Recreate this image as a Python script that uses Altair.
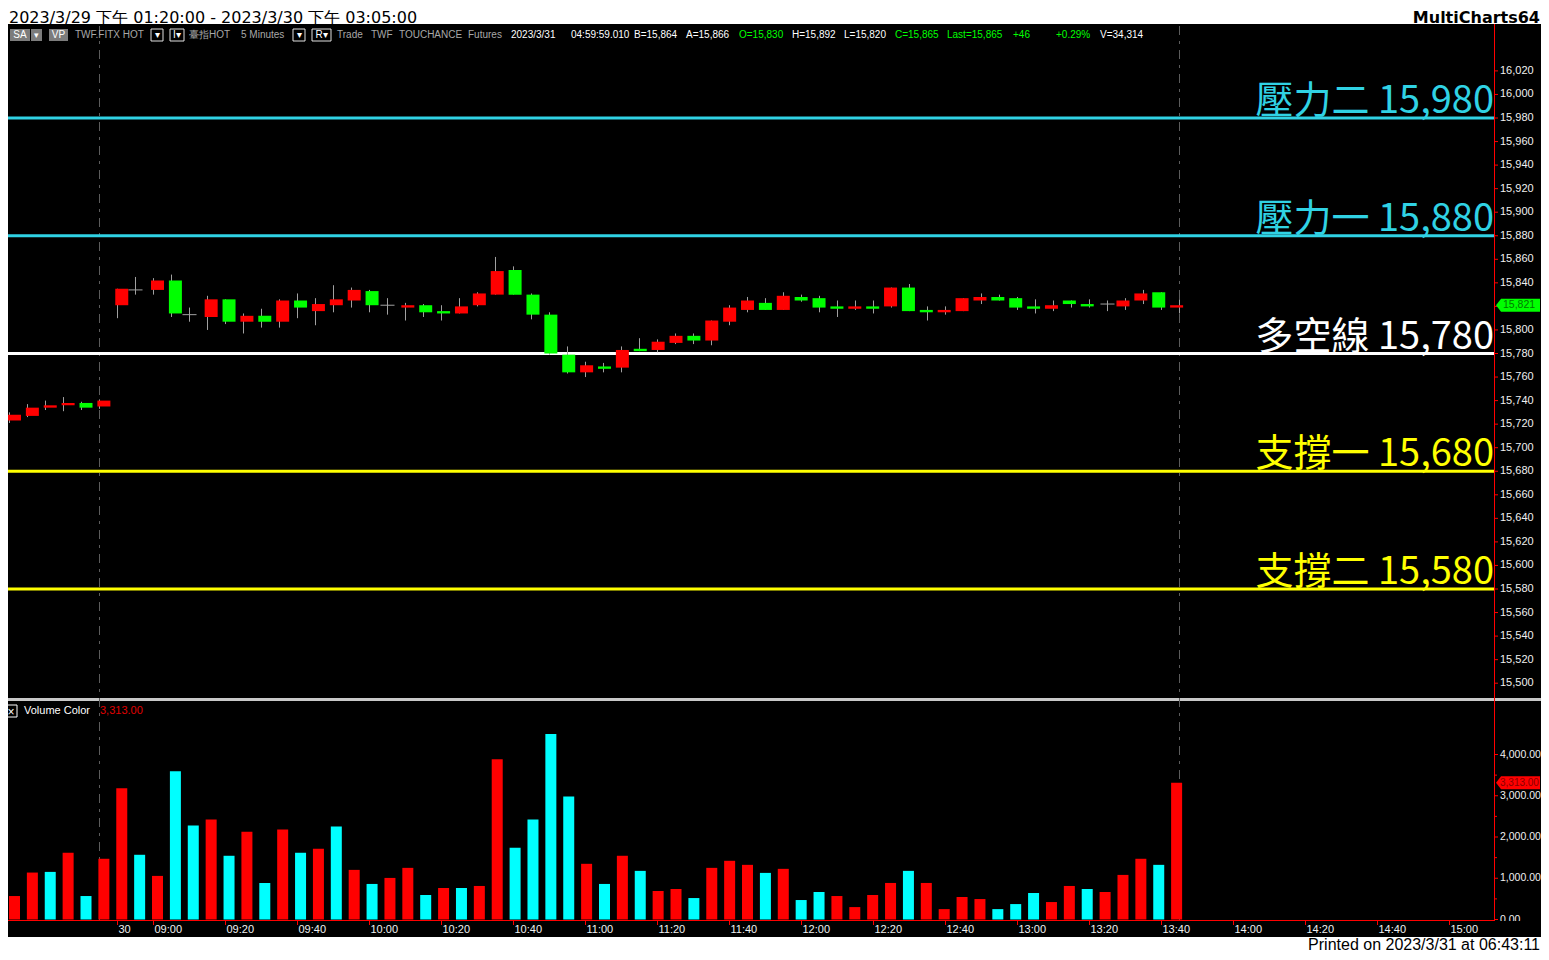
import altair as alt
import pandas as pd

# ---------------- chart values ----------------
OPEN = [15723, 15727, 15734, 15736, 15738, 15735, 15821, 15834, 15834, 15842,
        15813, 15811, 15826, 15807, 15812, 15807, 15825, 15816, 15821, 15825,
        15833, 15821, 15819, 15821, 15816, 15814, 15821, 15830, 15851, 15830,
        15813, 15779, 15764, 15769, 15768, 15784, 15783, 15789, 15795, 15791,
        15807, 15817, 15823, 15817, 15828, 15827, 15820, 15818, 15820, 15820,
        15836, 15817, 15815, 15816, 15825, 15828, 15827, 15820, 15818, 15825,
        15822, 15822, 15820, 15825, 15832, 15819]
HIGH = [15730, 15737, 15740, 15743, 15739, 15741, 15835, 15845, 15844, 15847,
        15819, 15829, 15826, 15814, 15818, 15826, 15831, 15827, 15838, 15836,
        15834, 15827, 15823, 15822, 15821, 15827, 15832, 15862, 15854, 15831,
        15815, 15786, 15773, 15772, 15786, 15793, 15792, 15797, 15797, 15808,
        15821, 15828, 15827, 15832, 15830, 15829, 15825, 15825, 15825, 15836,
        15839, 15820, 15820, 15827, 15831, 15830, 15828, 15826, 15825, 15825,
        15826, 15825, 15827, 15834, 15832, 15826]
LOW = [15721, 15726, 15732, 15731, 15732, 15733, 15810, 15830, 15830, 15811,
       15807, 15800, 15805, 15797, 15802, 15802, 15810, 15804, 15815, 15819,
       15815, 15813, 15808, 15811, 15808, 15814, 15820, 15830, 15830, 15809,
       15779, 15763, 15760, 15764, 15764, 15782, 15781, 15788, 15788, 15787,
       15804, 15815, 15817, 15817, 15824, 15815, 15811, 15817, 15814, 15819,
       15816, 15808, 15813, 15816, 15822, 15825, 15817, 15814, 15816, 15819,
       15819, 15816, 15817, 15822, 15817, 15814]
CLOSE = [15728, 15734, 15736, 15738, 15734, 15740, 15835, 15834, 15842, 15814,
         15813, 15826, 15807, 15812, 15807, 15825, 15819, 15822, 15826, 15834,
         15821, 15821, 15821, 15815, 15814, 15820, 15831, 15850, 15830, 15813,
         15780, 15764, 15770, 15767, 15783, 15782, 15790, 15795, 15791, 15808,
         15819, 15825, 15817, 15829, 15825, 15819, 15818, 15820, 15818, 15836,
         15816, 15815, 15817, 15827, 15828, 15825, 15819, 15818, 15821, 15822,
         15820, 15822, 15825, 15831, 15819, 15821]
VOLUME = [569, 1138, 1154, 1618, 569, 1472, 3179, 1569, 1057, 3593,
          2276, 2423, 1545, 2130, 886, 2179, 1618, 1715, 2252, 1203,
          862, 1008, 1252, 594, 764, 764, 813, 3886, 1740, 2423,
          4496, 2984, 1350, 862, 1545, 1179, 691, 740, 520, 1252,
          1423, 1325, 1130, 1228, 472, 667, 569, 301, 594, 886,
          1179, 886, 252, 545, 496, 252, 374, 642, 423, 813,
          740, 667, 1081, 1472, 1325, 3313]
VOL_SIDE = ["up", "up", "dn", "up", "dn", "up", "up", "dn", "up", "dn",
            "dn", "up", "dn", "up", "dn", "up", "dn", "up", "dn", "up",
            "dn", "up", "up", "dn", "up", "dn", "up", "up", "dn", "dn",
            "dn", "dn", "up", "dn", "up", "dn", "up", "up", "dn", "up",
            "up", "up", "dn", "up", "dn", "dn", "up", "up", "up", "up",
            "dn", "up", "up", "up", "up", "dn", "dn", "dn", "up", "up",
            "dn", "up", "up", "up", "dn", "up"]

LEVEL_NAME = ["壓力二", "壓力一", "多空線", "支撐一", "支撐二"]
LEVEL_VALUE = [15980, 15880, 15780, 15680, 15580]

PRICE_TICKS = [15500, 15520, 15540, 15560, 15580, 15600, 15620, 15640, 15660,
               15680, 15700, 15720, 15740, 15760, 15780, 15800, 15820, 15840,
               15860, 15880, 15900, 15920, 15940, 15960, 15980, 16000, 16020]
VOL_TICKS = [0, 1000, 2000, 3000, 4000]
VOL_MINOR = [500, 1500, 2500, 3500]
X_TICK_BAR = [6, 8, 12, 16, 20, 24, 28, 32, 36, 40, 44, 48, 52, 56, 60, 64, 68, 72, 76, 80]
X_TICK_LABEL = ["30", "09:00", "09:20", "09:40", "10:00", "10:20", "10:40", "11:00",
                "11:20", "11:40", "12:00", "12:20", "12:40", "13:00", "13:20", "13:40",
                "14:00", "14:20", "14:40", "15:00"]
SESSION_END_BAR = [5, 65]
LAST_PRICE = 15821
LAST_VOLUME = 3313

# ---------------- layout ----------------
M = 8                      # page margin of the host page
W, H = 1549 - 2 * M, 960 - 2 * M


def cx(x):
    return x - M


def cy(y):
    return y - M


RIGHT = cx(1494)
X_SCALE = alt.Scale(domain=[(8 - 9.5) / 18, (1494 - 9.5) / 18], range=[0, RIGHT], nice=False, zero=False)
P_SCALE = alt.Scale(domain=[15500, 16020], range=[cy(683.2), cy(70.9)], nice=False, zero=False)
V_SCALE = alt.Scale(domain=[0, 4000], range=[cy(919.5), cy(754.5)], nice=False, zero=True)

UI_FONT = "Liberation Sans"
RED, GREEN, CYAN = "#ff0000", "#00ff00", "#00ffff"
LINE_CYAN = "#30d2e4"
GREY_TXT = "#a8a8a8"

df = pd.DataFrame({"i": range(len(OPEN)), "o": OPEN, "h": HIGH, "l": LOW, "c": CLOSE,
                   "v": VOLUME, "side": VOL_SIDE})
lv = pd.DataFrame({"name": LEVEL_NAME, "value": LEVEL_VALUE})
one = alt.Data(values=[{"k": 0}])

xi = alt.X("i:Q", scale=X_SCALE, axis=None)


def box(x0, x1, y0, y1, fill, stroke=None):
    kw = {"fill": fill}
    if stroke:
        kw["stroke"] = stroke
        kw["strokeWidth"] = 1
    return alt.Chart(one).mark_rect(**kw).encode(
        x=alt.value(cx(x0)), x2=alt.value(cx(x1)), y=alt.value(cy(y0)), y2=alt.value(cy(y1)))


def label(x, y, text, color, size=11, align="left", font=UI_FONT, weight="normal", baseline="middle"):
    return alt.Chart(one).mark_text(align=align, baseline=baseline, fontSize=size, font=font,
                                    fontWeight=weight, color=color, text=text).encode(
        x=alt.value(cx(x)), y=alt.value(cy(y)))


layers = []
# background panels
layers.append(box(0, 1549, 24, 937, "#000000"))
layers.append(box(0, 1549, 698, 701, "#c8c8c8"))

# session separators (dashed)
layers.append(alt.Chart(pd.DataFrame({"i": SESSION_END_BAR})).mark_rule(
    color="#5c5c5c", strokeWidth=1, strokeDash=[9, 6, 3, 6]).encode(
    x=xi, y=alt.value(cy(26)), y2=alt.value(cy(920))))

# support / resistance lines and their labels
lvl_color = alt.Color("name:N", legend=None,
                      scale=alt.Scale(domain=LEVEL_NAME,
                                      range=[LINE_CYAN, LINE_CYAN, "#ffffff", "#ffff00", "#ffff00"]))
layers.append(alt.Chart(lv).mark_rule(strokeWidth=3).encode(
    y=alt.Y("value:Q", scale=P_SCALE, axis=None), x=alt.value(0), x2=alt.value(RIGHT), color=lvl_color))
layers.append(alt.Chart(lv).transform_calculate(
    txt="datum.name + ' ' + format(datum.value, ',')").mark_text(
    align="right", baseline="alphabetic", dy=-5, fontSize=38, font="Noto Sans CJK TC",
    fontWeight=400).encode(
    y=alt.Y("value:Q", scale=P_SCALE, axis=None), x=alt.value(RIGHT), text="txt:N", color=lvl_color))

# candles
layers.append(alt.Chart(df).mark_rule(color="#a0a0a0", strokeWidth=1).encode(
    x=xi, y=alt.Y("l:Q", scale=P_SCALE, axis=None), y2="h:Q"))
layers.append(alt.Chart(df).transform_filter("datum.o != datum.c").transform_calculate(
    dir="datum.c > datum.o ? 'up' : 'dn'").mark_bar(size=13).encode(
    x=xi, y=alt.Y("o:Q", scale=P_SCALE, axis=None), y2="c:Q",
    color=alt.Color("dir:N", legend=None, scale=alt.Scale(domain=["up", "dn"], range=[RED, GREEN]))))
layers.append(alt.Chart(df).transform_filter("datum.o == datum.c").transform_calculate(
    x0="datum.i - 0.39", x1="datum.i + 0.39").mark_rule(color="#a0a0a0", strokeWidth=1).encode(
    x=alt.X("x0:Q", scale=X_SCALE, axis=None), x2="x1:Q", y=alt.Y("o:Q", scale=P_SCALE, axis=None)))

# volume
layers.append(alt.Chart(df).mark_bar(size=11).encode(
    x=xi, y=alt.Y("v:Q", scale=V_SCALE, axis=None),
    color=alt.Color("side:N", legend=None, scale=alt.Scale(domain=["up", "dn"], range=[RED, CYAN]))))

# axes lines
layers.append(alt.Chart(one).mark_rule(color=RED, strokeWidth=1).encode(
    x=alt.value(RIGHT + 0.5), y=alt.value(cy(24)), y2=alt.value(cy(921))))
layers.append(alt.Chart(one).mark_rule(color=RED, strokeWidth=1).encode(
    x=alt.value(0), x2=alt.value(RIGHT + 1), y=alt.value(cy(920) + 0.5)))

# price axis
pt = pd.DataFrame({"t": PRICE_TICKS})
layers.append(alt.Chart(pt).mark_rule(color=RED, strokeWidth=1).encode(
    y=alt.Y("t:Q", scale=P_SCALE, axis=None), x=alt.value(RIGHT), x2=alt.value(RIGHT + 4)))
layers.append(alt.Chart(pt).transform_calculate(txt="format(datum.t, ',')").mark_text(
    align="left", baseline="middle", fontSize=11, font=UI_FONT, color="#f0f0f0").encode(
    y=alt.Y("t:Q", scale=P_SCALE, axis=None), x=alt.value(RIGHT + 6), text="txt:N"))

# volume axis
vt = pd.DataFrame({"t": VOL_TICKS})
layers.append(alt.Chart(vt).mark_rule(color=RED, strokeWidth=1).encode(
    y=alt.Y("t:Q", scale=V_SCALE, axis=None), x=alt.value(RIGHT), x2=alt.value(RIGHT + 4)))
layers.append(alt.Chart(pd.DataFrame({"t": VOL_MINOR})).mark_rule(color=RED, strokeWidth=1).encode(
    y=alt.Y("t:Q", scale=V_SCALE, axis=None), x=alt.value(RIGHT), x2=alt.value(RIGHT + 3)))
layers.append(alt.Chart(vt).transform_calculate(txt="format(datum.t, ',.2f')").mark_text(
    align="left", baseline="middle", fontSize=10.5, font=UI_FONT, color="#f0f0f0").encode(
    y=alt.Y("t:Q", scale=V_SCALE, axis=None), x=alt.value(RIGHT + 6), text="txt:N"))
layers.append(box(1495, 1549, 921, 937, "#000000"))

# time axis
xt = pd.DataFrame({"i": X_TICK_BAR, "lab": X_TICK_LABEL})
layers.append(alt.Chart(xt).mark_rule(color=RED, strokeWidth=1).encode(
    x=xi, y=alt.value(cy(920)), y2=alt.value(cy(925))))
layers.append(alt.Chart(xt).mark_text(
    align="left", baseline="middle", dx=1, fontSize=11, font=UI_FONT, color="#f0f0f0").encode(
    x=xi, y=alt.value(cy(930)), text="lab:N"))

# last value markers
TAG = "M-1,0L-0.77,-0.295L1,-0.295L1,0.295L-0.77,0.295Z"
layers.append(alt.Chart(pd.DataFrame({"p": [LAST_PRICE]})).mark_point(
    shape=TAG, size=1936, filled=True, opacity=1, color=GREEN).encode(
    x=alt.value(cx(1518)), y=alt.Y("p:Q", scale=P_SCALE, axis=None)))
layers.append(alt.Chart(pd.DataFrame({"p": [LAST_PRICE]})).transform_calculate(
    txt="format(datum.p, ',')").mark_text(
    align="left", baseline="middle", fontSize=10.5, font=UI_FONT, color="#007a00").encode(
    x=alt.value(cx(1503)), y=alt.Y("p:Q", scale=P_SCALE, axis=None), text="txt:N"))
layers.append(alt.Chart(pd.DataFrame({"v": [LAST_VOLUME]})).mark_point(
    shape=TAG, size=1936, filled=True, opacity=1, color=RED).encode(
    x=alt.value(cx(1518)), y=alt.Y("v:Q", scale=V_SCALE, axis=None)))
layers.append(alt.Chart(pd.DataFrame({"v": [LAST_VOLUME]})).transform_calculate(
    txt="format(datum.v, ',.2f')").mark_text(
    align="left", baseline="middle", fontSize=10, font=UI_FONT, color="#8a0000").encode(
    x=alt.value(cx(1500)), y=alt.Y("v:Q", scale=V_SCALE, axis=None), text="txt:N"))

# volume study legend
layers.append(box(5, 17, 705, 717, "#000000", "#ffffff"))
layers.append(label(11, 711.5, "×", "#ffffff", size=12, align="center"))
layers.append(label(24, 711, "Volume Color", "#ffffff"))
layers.append(label(100, 711, "3,313.00", "#e00000"))

# header / footer
layers.append(label(9, 22.5, "2023/3/29 下午 01:20:00 - 2023/3/30 下午 03:05:00", "#000000",
                    size=16, font="DejaVu Sans", baseline="alphabetic"))
layers.append(label(1540, 22.5, "MultiCharts64", "#000000", size=16, font="DejaVu Sans",
                    weight="bold", align="right", baseline="alphabetic"))
layers.append(label(1540, 944.5, "Printed on 2023/3/31 at 06:43:11", "#000000", size=16,
                    align="right", baseline="middle"))

# toolbar row
layers.append(box(10, 30, 29, 41, "#7c7c7c"))
layers.append(box(31, 42, 29, 41, "#7c7c7c"))
layers.append(label(20, 35, "SA", "#ffffff", size=10, align="center"))
layers.append(label(36.5, 35, "▾", "#ffffff", size=9, align="center"))
layers.append(box(49, 68, 29, 41, "#7c7c7c"))
layers.append(label(58.5, 35, "VP", "#ffffff", size=10, align="center"))
for x0, x1, t in [(151, 163, "▾"), (170, 184, "I▾"), (293, 305, "▾"), (312, 331, "R▾")]:
    layers.append(box(x0, x1, 29, 41, "#000000", "#e0e0e0"))
    layers.append(label((x0 + x1) / 2, 35, t, "#ffffff", size=10, align="center"))
TOOLBAR = [(75, "TWF.FITX HOT", GREY_TXT), (189, "臺指HOT", GREY_TXT), (241, "5 Minutes", GREY_TXT),
           (337, "Trade", GREY_TXT), (371, "TWF", GREY_TXT), (399, "TOUCHANCE", GREY_TXT),
           (468, "Futures", GREY_TXT), (511, "2023/3/31", "#ffffff"), (571, "04:59:59.010", "#ffffff"),
           (634, "B=15,864", "#ffffff"), (686, "A=15,866", "#ffffff"), (739, "O=15,830", GREEN),
           (792, "H=15,892", "#ffffff"), (844, "L=15,820", "#ffffff"), (895, "C=15,865", GREEN),
           (947, "Last=15,865", GREEN), (1013, "+46", GREEN), (1056, "+0.29%", GREEN),
           (1100, "V=34,314", "#ffffff")]
for x0, t, col in TOOLBAR:
    layers.append(label(x0, 35, t, col, size=10))

chart = alt.layer(*layers).resolve_scale(
    x="independent", y="independent", color="independent").properties(
    width=W, height=H, padding=0, autosize=alt.AutoSizeParams(type="none"), background="#ffffff"
).configure_view(stroke=None)

chart.save("out.html", embed_options={"renderer": "svg", "actions": False})
